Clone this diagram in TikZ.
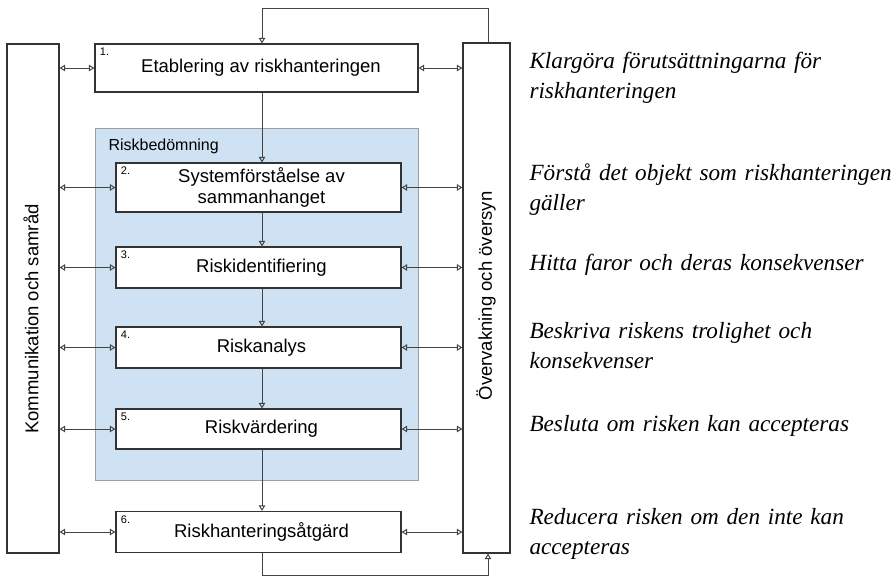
\documentclass[tikz,border=0pt]{standalone}
\usepackage{fontspec}
\setmainfont{Liberation Serif}
\setsansfont{Liberation Sans}
\usetikzlibrary{arrows.meta}
\definecolor{boxline}{HTML}{333333}
\definecolor{linkline}{HTML}{444444}
\definecolor{assessfill}{HTML}{CFE2F3}
\definecolor{assessline}{HTML}{9E9E9E}
\newcommand{\boxfont}{\sffamily\fontsize{18.5}{21.5}\selectfont}

\begin{document}
\begin{tikzpicture}[x=1pt, y=-1pt, line width=1pt,
    >={Triangle[open, length=5.5pt, width=6.5pt]},
    stage/.style={draw=boxline, line width=1.2pt, fill=white, inner sep=0pt,
      minimum width=285pt, font=\boxfont, align=center},
    pillar/.style={draw=boxline, line width=1.2pt, fill=white, inner sep=0pt},
    pillartext/.style={rotate=90, inner sep=0pt, font=\boxfont},
    stepno/.style={anchor=north west, inner sep=0pt, font=\sffamily\fontsize{11}{13}\selectfont},
    link/.style={draw=linkline, line width=1pt},
    aim/.style={anchor=base west, inner sep=0pt, text width=380pt, align=left,
      font=\itshape\fontsize{23.2}{30}\selectfont}]
  \useasboundingbox (0,0) rectangle (895,576);
  \coordinate (spine) at (262,0);
  \coordinate (loopup) at (488,8);
  \coordinate (loopdown) at (488,575);

  % side columns
  \node[pillar, minimum width=52pt, minimum height=509pt] (talk) at (33,298.5) {};
  \node[pillar, minimum width=47pt, minimum height=510pt] (watch) at (486.5,298) {};
  \node[pillartext] (talktext) at (31,319) {Kommunikation och samråd};
  \node[pillartext] (watchtext) at (486,296) {Övervakning och översyn};

  % risk assessment area
  \node[draw=assessline, fill=assessfill, line width=1pt, minimum width=323pt,
    minimum height=352pt, inner sep=0pt] (assess) at (256.5,304) {};
  \node[anchor=north west, inner sep=0pt, font=\sffamily\fontsize{16}{18}\selectfont]
    (assesstext) at (108,138) {Riskbedömning};

  % steps
  \node[stage, minimum width=323pt, minimum height=48pt] (b1) at (256.5,68) {\hspace*{9pt}Etablering av riskhanteringen};
  \node[stage, minimum height=49pt] (b2) at (258.5,187.5) {\hspace*{6pt}Systemförståelse av\\\hspace*{6pt}sammanhanget};
  \node[stage, minimum height=41pt] (b3) at (258.5,267.5) {\hspace*{6pt}Riskidentifiering};
  \node[stage, minimum height=41pt] (b4) at (258.5,347.5) {\hspace*{6pt}Riskanalys};
  \node[stage, minimum height=40pt] (b5) at (258.5,429) {\hspace*{6pt}Riskvärdering};
  \node[stage, minimum height=41pt] (b6) at (258.5,532) {\hspace*{6pt}Riskhanteringsåtgärd};
  \foreach \b/\n in {b1/1, b2/2, b3/3, b4/4, b5/5, b6/6}
    \node[stepno] (\b no) at ([shift={(5,4)}]\b.north west) {\n.};

  % links
  \foreach \b in {b1, b2, b3, b4, b5, b6} {
    \draw[link, <->] (talk.east |- \b.west) -- (\b.west);
    \draw[link, <->] (\b.east) -- (watch.west |- \b.east);
  }
  \foreach \a/\b in {b1/b2, b2/b3, b3/b4, b4/b5, b5/b6}
    \draw[link, ->] (\a.south -| spine) -- (\b.north -| spine);
  \draw[link, ->] (watch.north -| loopup) -- (loopup) -| (b1.north -| spine);
  \draw[link, ->] (b6.south -| spine) |- (loopdown) -- (watch.south -| loopdown);

  % aims
  \node[aim] (aim1) at (529,68) {Klargöra förutsättningarna för\\riskhanteringen};
  \node[aim] (aim2) at (529,180) {Förstå det objekt som riskhanteringen\\gäller};
  \node[aim] (aim3) at (529,270) {Hitta faror och deras konsekvenser};
  \node[aim] (aim4) at (529,338) {Beskriva riskens trolighet och\\konsekvenser};
  \node[aim] (aim5) at (529,431) {Besluta om risken kan accepteras};
  \node[aim] (aim6) at (529,524) {Reducera risken om den inte kan\\accepteras};
\end{tikzpicture}
\end{document}
